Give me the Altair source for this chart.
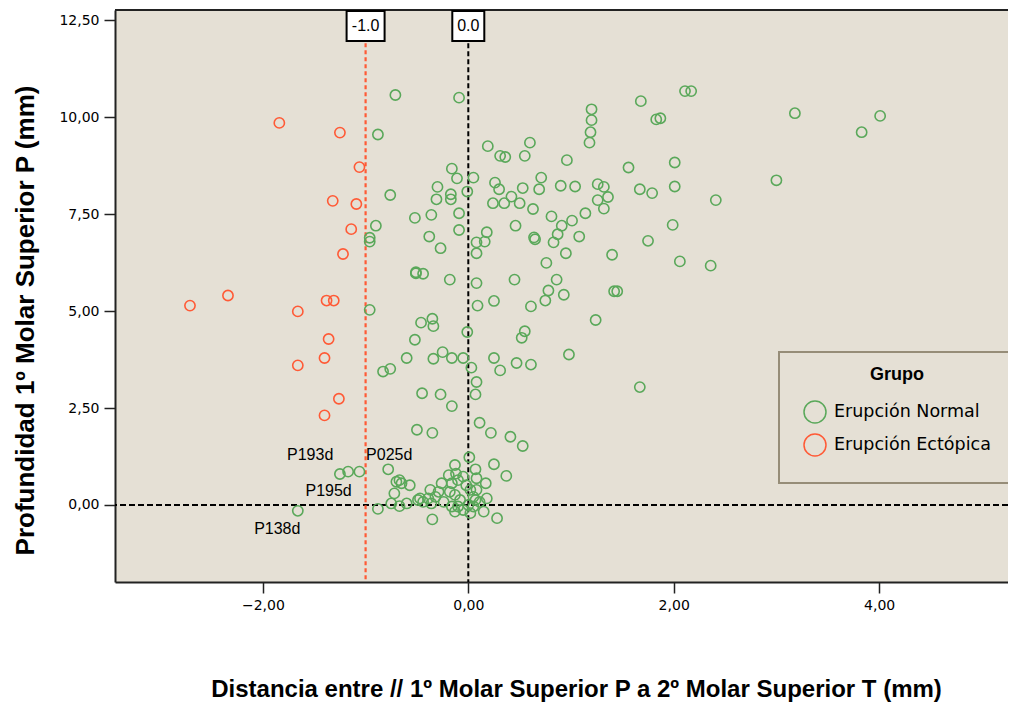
import altair as alt
import pandas as pd

# ---------------- data ----------------
normal_x = [2.11, 2.17, 1.87, 3.18, 4.01, 3.83, 2.01, 2.01, 3.00, 2.41, 1.99, 2.06, 2.36,
            -0.71, -0.88, -0.76, -0.52, -0.90, -0.96, -0.96, -0.51,
            -0.09, 1.68, 1.20, 1.20, 1.83, 1.19, 1.18, 0.19, 0.60, 0.31, 0.36, 0.55, 0.96, 1.56,
            -0.16, -0.11, 0.05, -0.30, -0.17, -0.17, -0.01, -0.31, 0.26, 0.30, 0.24, 0.35, 0.42,
            0.50, 0.53, 0.63, 0.71, 0.69, 0.90, 1.04, 1.26, 1.32, 1.26, 1.36, 1.32, 1.67, 1.79,
            -0.36, -0.09, 0.81, 1.01, 0.91, 1.14, -0.38, -0.27, -0.09, 0.18, 0.08, 0.16, 0.08,
            0.46, 0.64, 0.65, 0.83, 0.87, 1.08, 0.95, 0.76, 1.40, 1.75,
            -0.51, -0.44, -0.18, 0.08, 0.45, 0.86, 0.78, 1.42, 1.45, 0.93, 0.25,
            0.09, 0.61, 0.75, 1.24, -0.46, -0.35, -0.34, -0.01, 0.55, 0.52, 0.98,
            -0.34, -0.25, -0.16, -0.05, 0.03, 0.25, 0.31, 0.47, 0.61, 0.08, 0.07, 1.67,
            -0.45, -0.27, -0.16, -0.50, -0.35, 0.11, 0.22, 0.41, 0.53, 0.01, 0.25, 0.37, 0.17,
            0.28, -0.35, 0.15,
            -0.96, -0.52, -0.60, -0.83, -0.76, -0.78, -1.25, -1.17, -1.06, -1.66, -0.88,
            -0.70, -0.65, -0.57, -0.72, -0.75, -0.67, -0.60, -0.49,
            -0.13, -0.12, -0.10, -0.05, -0.02, 0.02, 0.05, -0.16, -0.18, -0.13, -0.08, 0.07,
            0.08, 0.08, 0.07, -0.26, -0.29, -0.37, -0.39, -0.32, -0.47, -0.44, -0.67,
            -0.10, -0.05, 0.00, 0.02, 0.05, 0.11, -0.16, -0.13, -0.19, 0.18, -0.24, -0.36]
normal_y = [10.67, 10.67, 9.97, 10.10, 10.03, 9.61, 8.83, 8.21, 8.37, 7.86, 7.22, 6.28, 6.17,
            10.57, 9.55, 7.99, 7.40, 7.20, 6.89, 6.79, 6.00,
            10.50, 10.41, 10.20, 9.92, 9.94, 9.61, 9.34, 9.25, 9.34, 9.00, 8.97, 9.00, 8.89, 8.70,
            8.67, 8.42, 8.44, 8.20, 8.01, 7.88, 8.08, 7.88, 8.31, 8.14, 7.78, 7.78, 7.95,
            7.78, 8.17, 7.63, 8.44, 8.14, 8.23, 8.21, 8.27, 8.20, 7.86, 7.94, 7.64, 8.14, 8.04,
            7.48, 7.52, 7.44, 7.33, 7.20, 7.52, 6.92, 6.62, 7.09, 7.03, 6.77, 6.79, 6.49,
            7.20, 6.90, 6.85, 6.77, 6.98, 6.92, 6.49, 6.24, 6.45, 6.81,
            5.97, 5.96, 5.81, 5.72, 5.81, 5.81, 5.53, 5.51, 5.51, 5.42, 5.26,
            5.14, 5.12, 5.27, 4.77, 4.70, 4.80, 4.61, 4.46, 4.48, 4.31, 3.88,
            3.77, 3.94, 3.79, 3.79, 3.54, 3.79, 3.47, 3.66, 3.62, 3.17, 2.85, 3.04,
            2.88, 2.85, 2.55, 1.94, 1.86, 2.12, 1.86, 1.76, 1.52, 1.23, 1.05, 0.75, 0.56,
            -0.34, -0.37, -0.17,
            5.03, 4.26, 3.79, 3.44, 3.51, 0.92, 0.80, 0.86, 0.86, -0.15, -0.10,
            0.60, 0.56, 0.51, 0.30, 0.04, -0.03, 0.04, 0.13,
            1.03, 0.81, 0.64, 0.73, 0.51, 0.39, 0.21, 0.56, 0.34, 0.26, 0.13, 0.92,
            0.69, 0.39, 0.13, 0.56, 0.34, 0.39, 0.17, 0.21, 0.17, 0.08, 0.64,
            -0.04, -0.13, 0.00, -0.21, -0.04, 0.08, -0.04, -0.17, 0.77, 0.17, 0.08, 0.04]

ectopic_x = [-1.84, -1.25, -1.06, -1.32, -1.09, -1.14, -1.22, -2.71, -2.34, -1.66,
             -1.38, -1.31, -1.36, -1.40, -1.66, -1.26, -1.40]
ectopic_y = [9.85, 9.60, 8.71, 7.84, 7.76, 7.11, 6.47, 5.14, 5.40, 4.99,
             5.27, 5.27, 4.28, 3.79, 3.60, 2.74, 2.31]

groups = ["Erupción Normal", "Erupción Ectópica"]
group_colors = ["#5aa85a", "#ff5a36"]

label_text = ["P193d", "P025d", "P195d", "P138d"]
label_x = [-1.54, -0.77, -1.36, -1.86]
label_y = [1.29, 1.29, 0.36, -0.62]

ref_values = [-1.0, 0.0]
ref_texts = ["-1.0", "0.0"]

x_ticks = [-2, 0, 2, 4]
y_ticks = [0, 2.5, 5, 7.5, 10, 12.5]

XMIN, XMAX = -3.44, 5.255
YMIN, YMAX = -1.985, 12.76
BG = "#e5e0d5"

# ---------------- frames ----------------
pts = pd.DataFrame({
    "x": normal_x + ectopic_x,
    "y": normal_y + ectopic_y,
    "grupo": [groups[0]] * len(normal_x) + [groups[1]] * len(ectopic_x),
})
labels = pd.DataFrame({"x": label_x, "y": label_y, "t": label_text})
one = pd.DataFrame({"k": [0]})
ref1 = pd.DataFrame({"x": [ref_values[0]], "t": [ref_texts[0]]})
ref0 = pd.DataFrame({"x": [ref_values[1]], "t": [ref_texts[1]]})

fmt = "replace(format(datum.value, '.2f'), '.', ',')"
xs = alt.Scale(domain=[XMIN, XMAX], nice=False, zero=False)
ys = alt.Scale(domain=[YMIN, YMAX], nice=False, zero=False)

xenc = alt.X("x:Q", scale=xs, axis=alt.Axis(
    values=x_ticks, labelExpr=fmt,
    title="Distancia entre // 1º Molar Superior P a 2º Molar Superior T (mm)",
    titleFontSize=24, titleX=461, titleY=107, titleBaseline="middle", titleAlign="center"))
yenc = alt.Y("y:Q", scale=ys, axis=alt.Axis(
    values=y_ticks, labelExpr=fmt,
    title="Profundidad 1º Molar Superior P (mm)",
    titleFontSize=26, titleX=-90, titleY=310, titleAngle=270,
    titleBaseline="middle", titleAlign="center"))

legend_box = alt.Chart(one).mark_rect(fill=BG, stroke="#968d78", strokeWidth=2).encode(
    x=alt.value(664), x2=alt.value(930), y=alt.value(342), y2=alt.value(473))

hline = alt.Chart(one).mark_rule(color="black", strokeWidth=2, strokeDash=[6, 3]).encode(
    y=alt.datum(0))

vline0 = alt.Chart(ref0).mark_rule(color="black", strokeWidth=2, strokeDash=[5, 3]).encode(
    x="x:Q", y=alt.datum(11.9), y2=alt.datum(YMIN))
vline1 = alt.Chart(ref1).mark_rule(color=group_colors[1], strokeWidth=2.2, strokeDash=[4, 3]).encode(
    x="x:Q", y=alt.datum(11.9), y2=alt.datum(YMIN))

points = alt.Chart(pts).mark_point(filled=False, size=105, strokeWidth=1.6, opacity=1).encode(
    x=xenc, y=yenc,
    color=alt.Color("grupo:N", scale=alt.Scale(domain=groups, range=group_colors),
                    legend=alt.Legend(
                        title="Grupo", orient="none", legendX=688, legendY=356,
                        titleAnchor="middle", titleFontSize=18, titleFont="Liberation Sans",
                        titleFontWeight="bold", titleColor="black", titlePadding=16,
                        labelFont="DejaVu Sans", labelFontSize=17.5, labelColor="black",
                        symbolSize=484, symbolStrokeWidth=1.5, symbolType="circle",
                        rowPadding=5, labelOffset=7, padding=0)),
)

top_rule = alt.Chart(one).mark_rule(color="#222", strokeWidth=2).encode(y=alt.datum(YMAX))

box1 = alt.Chart(ref1).mark_rect(width=38, height=30, fill="white", stroke="black", strokeWidth=2).encode(
    x="x:Q", y=alt.datum(12.35))
box0 = alt.Chart(ref0).mark_rect(width=32, height=30, fill="white", stroke="black", strokeWidth=2).encode(
    x="x:Q", y=alt.datum(12.35))
t1 = alt.Chart(ref1).mark_text(font="Liberation Sans", fontSize=16, color="black", baseline="middle").encode(
    x="x:Q", y=alt.datum(12.35), text="t:N")
t0 = alt.Chart(ref0).mark_text(font="Liberation Sans", fontSize=16, color="black", baseline="middle").encode(
    x="x:Q", y=alt.datum(12.35), text="t:N")

lab = alt.Chart(labels).mark_text(font="Liberation Sans", fontSize=16, color="black", baseline="middle").encode(
    x="x:Q", y="y:Q", text="t:N")

chart = alt.layer(
    legend_box, hline, vline0, vline1, points, top_rule, box1, box0, t1, t0, lab
).properties(
    width=893, height=572,
    autosize=alt.AutoSizeParams(type="none"),
    padding={"left": 107, "top": 2, "right": 0, "bottom": 122},
).configure_view(fill=BG, stroke=None).configure_axis(
    grid=False, domainColor="#222", domainWidth=2, tickColor="#222", tickWidth=1.5,
    tickSize=11, labelPadding=5, labelFont="DejaVu Sans", labelFontSize=14,
    labelColor="black", titleFont="Liberation Sans", titleFontWeight="bold", titleColor="black",
)

chart.save("out.html", embed_options={"renderer": "svg", "actions": False})
